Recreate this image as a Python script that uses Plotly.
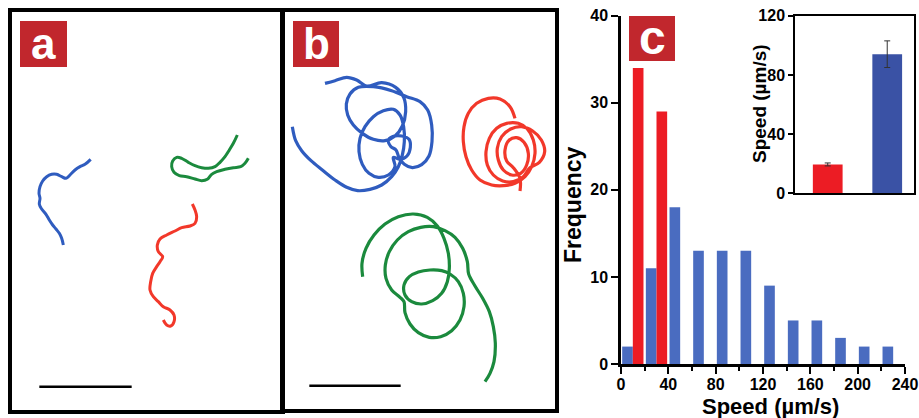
import plotly.graph_objects as go

W, H = 919, 418

# ---------------- Histogram data (panel c) ----------------
bin_centers = [10, 30, 50, 70, 90, 110, 130, 150, 170, 190, 210, 230]
freq_blue = [2, 11, 18, 13, 13, 13, 9, 5, 5, 3, 2, 2]
freq_red = [34, 29, 0, 0, 0, 0, 0, 0, 0, 0, 0, 0]
x_ticks = [0, 40, 80, 120, 160, 200, 240]
x_minor = [20, 60, 100, 140, 180, 220]
y_ticks = [0, 10, 20, 30, 40]

# ---------------- Inset bar data ----------------
inset_groups = ["a", "b"]
inset_speed = [19.5, 94]
inset_err = [1, 9]
inset_ticks = [0, 40, 80, 120]

# ---------------- Trajectories (image units, 3x pixels) ----------------
a_blue_x = [272, 255, 240, 225, 210, 198, 185, 170, 155, 140, 128, 120, 117, 120, 118, 125, 138, 148, 158, 168, 178, 185, 190]
a_blue_y = [478, 493, 500, 510, 525, 535, 530, 523, 523, 530, 543, 560, 580, 595, 613, 627, 643, 660, 675, 687, 700, 715, 735]

a_green_x = [712, 700, 688, 675, 660, 645, 625, 605, 585, 565, 545, 530, 518, 515, 522, 538, 560, 585, 605, 622, 635, 650, 675, 700, 722, 735, 745]
a_green_y = [405, 430, 450, 470, 487, 500, 505, 503, 497, 487, 475, 472, 483, 500, 517, 527, 530, 537, 542, 538, 523, 515, 508, 503, 500, 490, 475]

a_red_x = [577, 585, 590, 585, 570, 545, 525, 500, 480, 472, 475, 488, 480, 470, 458, 452, 450, 460, 475, 490, 510, 522, 522, 512, 500, 490]
a_red_y = [612, 630, 650, 670, 678, 683, 693, 705, 717, 735, 755, 770, 785, 800, 820, 845, 870, 890, 905, 920, 930, 945, 965, 978, 975, 960]

b_blue_x = [975, 1005, 1040, 1070, 1100,
            1145, 1187, 1211, 1217, 1207, 1185, 1155, 1120, 1087, 1060, 1043, 1039, 1050, 1075,
            1120, 1175, 1220, 1260, 1283, 1295, 1296, 1287, 1265, 1237, 1213, 1197, 1188,
            1173, 1165, 1177, 1205, 1227, 1231, 1221, 1200, 1180,
            1185, 1165, 1135, 1107, 1087, 1077, 1080, 1095, 1120, 1150, 1180, 1200, 1211, 1213,
            1207, 1195, 1175, 1145, 1110, 1073, 1040, 1005, 967, 933, 905, 887, 877]
b_blue_y = [250, 242, 232, 240, 258,
            248, 262, 292, 335, 378, 408, 422, 418, 400, 375, 345, 312, 282, 262,
            260, 272, 290, 305, 330, 375, 425, 468, 494, 503, 493, 472, 450,
            440, 420, 410, 408, 418, 442, 468, 478, 472,
            500, 525, 532, 520, 493, 455, 415, 380, 350, 332, 328, 345, 380, 425,
            465, 500, 530, 555, 568, 572, 562, 540, 510, 482, 452, 422, 380]

b_red_x = [1545, 1530, 1500, 1465, 1430, 1405, 1392, 1390, 1398, 1415,
           1440, 1475, 1510, 1545, 1575, 1595, 1605, 1600, 1582, 1555,
           1520, 1490, 1468, 1458, 1462, 1480, 1508, 1540, 1570, 1590,
           1618, 1634, 1624, 1598, 1565, 1532, 1505, 1492, 1495, 1510,
           1535, 1562, 1580, 1585, 1572, 1550, 1528, 1515, 1520, 1540,
           1560, 1560]
b_red_y = [355, 320, 297, 295, 310, 340, 380, 425, 470, 510,
           540, 555, 557, 550, 530, 500, 460, 420, 387, 370,
           370, 385, 415, 455, 495, 525, 543, 545, 530, 503,
           487, 455, 420, 393, 380, 387, 410, 445, 480, 510,
           525, 520, 495, 460, 427, 413, 420, 450, 483, 503,
           535, 573]

b_green_x = [1088, 1086, 1098, 1122, 1155, 1195, 1240, 1282, 1312, 1332, 1345, 1348, 1342,
             1325, 1298, 1265, 1235, 1215, 1212, 1228, 1255, 1290, 1325, 1350,
             1375, 1390, 1392, 1380, 1355, 1322, 1288, 1255, 1230, 1215, 1212,
             1200, 1175, 1158, 1156, 1168, 1192, 1225, 1262, 1300, 1335, 1365, 1388, 1402, 1406,
             1425, 1448, 1468, 1480, 1486, 1482, 1470, 1455]
b_green_y = [830, 790, 745, 705, 672, 650, 642, 652, 678, 715, 760, 805, 845,
             880, 902, 912, 905, 885, 855, 830, 816, 810, 812, 822,
             845, 880, 920, 960, 992, 1010, 1012, 998, 972, 938, 905,
             892, 870, 835, 795, 755, 720, 695, 682, 680, 692, 712, 745, 785, 822,
             858, 895, 935, 980, 1030, 1085, 1120, 1145]

scale_a_x = [118, 395]
scale_a_y = [1160, 1160]
scale_b_x = [928, 1202]
scale_b_y = [1157, 1157]

# ---------------- Styles ----------------
FONT = "Arial, Liberation Sans, Helvetica, sans-serif"
TR_BLUE = "#2f5cbf"
TR_RED = "#f2382a"
TR_GREEN = "#1b8a3d"
H_BLUE = "#4a6cc0"
H_RED = "#ec1c24"
I_BLUE = "#3a52a5"
LABEL_RED = "#c1272d"


def px(x):
    return x / W


def py(y):
    return 1 - y / H


fig = go.Figure()

# Panel a trajectories
for xs, ys, c in [(a_blue_x, a_blue_y, TR_BLUE), (a_green_x, a_green_y, TR_GREEN), (a_red_x, a_red_y, TR_RED)]:
    fig.add_trace(go.Scatter(x=xs, y=ys, mode="lines", line=dict(color=c, width=3, shape="spline", smoothing=1.0),
                             xaxis="x", yaxis="y", hoverinfo="skip"))
fig.add_trace(go.Scatter(x=scale_a_x, y=scale_a_y, mode="lines", line=dict(color="black", width=2.5),
                         xaxis="x", yaxis="y", hoverinfo="skip"))

# Panel b trajectories
for xs, ys, c in [(b_blue_x, b_blue_y, TR_BLUE), (b_red_x, b_red_y, TR_RED), (b_green_x, b_green_y, TR_GREEN)]:
    fig.add_trace(go.Scatter(x=xs, y=ys, mode="lines", line=dict(color=c, width=3.2, shape="spline", smoothing=1.0),
                             xaxis="x2", yaxis="y2", hoverinfo="skip"))
fig.add_trace(go.Scatter(x=scale_b_x, y=scale_b_y, mode="lines", line=dict(color="black", width=2.5),
                         xaxis="x2", yaxis="y2", hoverinfo="skip"))

# Histogram
fig.add_trace(go.Bar(x=bin_centers, y=freq_blue, marker=dict(color=H_BLUE, line=dict(width=0)),
                     width=9, offset=-9, xaxis="x3", yaxis="y3"))
fig.add_trace(go.Bar(x=bin_centers, y=freq_red, marker=dict(color=H_RED, line=dict(width=0)),
                     width=9, offset=0, xaxis="x3", yaxis="y3"))

# Inset
fig.add_trace(go.Bar(x=inset_groups, y=inset_speed, marker=dict(color=[H_RED, I_BLUE], line=dict(width=0)),
                     width=0.5, offset=-0.25,
                     error_y=dict(type="data", array=inset_err, color="#333333", thickness=1, width=3),
                     xaxis="x4", yaxis="y4"))

hidden = dict(showgrid=False, zeroline=False, showticklabels=False, ticks="",
              showline=True, linecolor="black", linewidth=3.5, mirror=True)

tickfont = dict(family=FONT, size=16, color="black", weight="bold")

fig.update_layout(
    width=W, height=H,
    margin=dict(l=0, r=0, t=0, b=0, autoexpand=False),
    paper_bgcolor="white", plot_bgcolor="rgba(0,0,0,0)",
    showlegend=False,
    barmode="overlay",
    xaxis=dict(domain=[px(12), px(281)], range=[36, 843], anchor="y", **hidden),
    yaxis=dict(domain=[py(410), py(12)], range=[1230, 36], anchor="x", **hidden),
    xaxis2=dict(domain=[px(284), px(555)], range=[852, 1665], anchor="y2", **hidden),
    yaxis2=dict(domain=[py(409), py(12)], range=[1227, 36], anchor="x2", **hidden),
    xaxis3=dict(domain=[px(621), px(905)], range=[0, 240], anchor="y3",
                tickvals=x_ticks, ticks="outside", ticklen=7, tickwidth=2, tickcolor="black",
                ticklabelstandoff=-3,
                minor=dict(tickvals=x_minor, ticks="outside", ticklen=4, tickwidth=2, tickcolor="black"),
                showline=True, linecolor="black", linewidth=2.5, showgrid=False, zeroline=False,
                tickfont=tickfont),
    yaxis3=dict(domain=[py(364), py(15.7)], range=[0, 40], anchor="x3",
                tickvals=y_ticks, ticks="outside", ticklen=7, tickwidth=2, tickcolor="black",
                showline=True, linecolor="black", linewidth=2.5, showgrid=False, zeroline=False,
                tickfont=tickfont),
    xaxis4=dict(domain=[px(795), px(914)], type="category", range=[-0.55, 1.45], anchor="y4",
                showticklabels=False, ticks="", showline=True, linecolor="black", linewidth=1.5,
                mirror=True, showgrid=False, zeroline=False),
    yaxis4=dict(domain=[py(193.3), py(15.7)], range=[0, 120], anchor="x4",
                tickvals=inset_ticks, ticks="outside", ticklen=5, tickwidth=1.5, tickcolor="black",
                showline=True, linecolor="black", linewidth=1.5, mirror=True,
                showgrid=False, zeroline=False, tickfont=tickfont),
)

# Panel label boxes
shapes = []
annotations = []
for (x0, y0, x1, y1, letter, fs) in [(20, 21, 67, 67, "a", 44), (293, 21, 339, 67, "b", 44), (629, 16, 675, 61, "c", 48)]:
    shapes.append(dict(type="rect", xref="paper", yref="paper", x0=px(x0), x1=px(x1), y0=py(y1), y1=py(y0),
                       fillcolor=LABEL_RED, line=dict(width=0), layer="above"))
    annotations.append(dict(text=letter, xref="paper", yref="paper", x=px((x0 + x1) / 2), y=py((y0 + y1) / 2 - 1),
                            xanchor="center", yanchor="middle", showarrow=False,
                            font=dict(family=FONT, size=fs, color="white", weight="bold")))

annotations += [
    dict(text="Frequency", xref="paper", yref="paper", x=px(573), y=py(205), textangle=-90,
         xanchor="center", yanchor="middle", showarrow=False,
         font=dict(family=FONT, size=23, color="black", weight="bold")),
    dict(text="Speed (µm/s)", xref="paper", yref="paper", x=px(770), y=py(406),
         xanchor="center", yanchor="middle", showarrow=False,
         font=dict(family=FONT, size=22, color="black", weight="bold")),
    dict(text="Speed (µm/s)", xref="paper", yref="paper", x=px(760), y=py(104), textangle=-90,
         xanchor="center", yanchor="middle", showarrow=False,
         font=dict(family=FONT, size=19, color="black", weight="bold")),
]

fig.update_layout(shapes=shapes, annotations=annotations)

fig.write_html("out.html")
